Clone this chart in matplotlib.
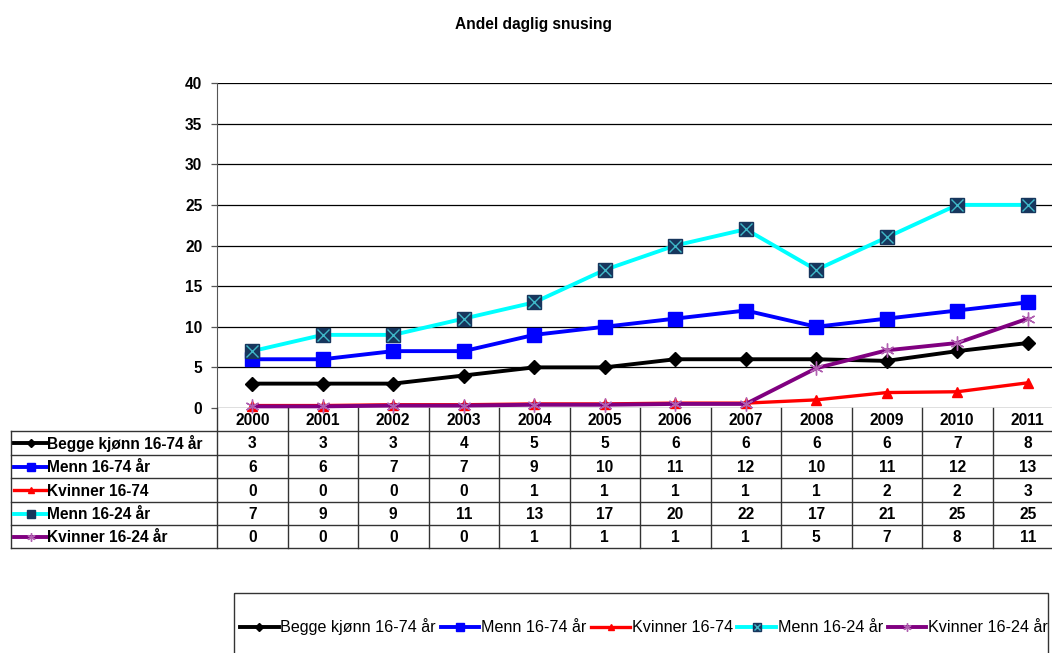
import numpy as np
import matplotlib
matplotlib.use("Agg")
import matplotlib.pyplot as plt
from matplotlib.patches import Rectangle

plt.rcParams['font.family'] = ['Liberation Sans', 'DejaVu Sans']

# Data
aar = [2000, 2001, 2002, 2003, 2004, 2005, 2006, 2007, 2008, 2009, 2010, 2011]
navn = ["Begge kjønn 16-74 år", "Menn 16-74 år", "Kvinner 16-74",
        "Menn 16-24 år", "Kvinner 16-24 år"]

# verdier slik de er tegnet i grafen
begge = [3, 3, 3, 4, 5, 5, 6, 6, 6, 5.8, 7, 8]
menn = [6, 6, 7, 7, 9, 10, 11, 12, 10, 11, 12, 13]
kvinner = [0.3, 0.3, 0.4, 0.4, 0.5, 0.5, 0.6, 0.6, 1.0, 1.9, 2.0, 3.1]
menn_ung = [7, 9, 9, 11, 13, 17, 20, 22, 17, 21, 25, 25]
kvinner_ung = [0.2, 0.2, 0.3, 0.3, 0.4, 0.4, 0.5, 0.5, 4.9, 7.1, 8.0, 11.0]

# verdier slik de står i tabellen
tab_begge = [3, 3, 3, 4, 5, 5, 6, 6, 6, 6, 7, 8]
tab_menn = [6, 6, 7, 7, 9, 10, 11, 12, 10, 11, 12, 13]
tab_kvinner = [0, 0, 0, 0, 1, 1, 1, 1, 1, 2, 2, 3]
tab_menn_ung = [7, 9, 9, 11, 13, 17, 20, 22, 17, 21, 25, 25]
tab_kvinner_ung = [0, 0, 0, 0, 1, 1, 1, 1, 5, 7, 8, 11]

serier = [begge, menn, kvinner, menn_ung, kvinner_ung]
tabell = [tab_begge, tab_menn, tab_kvinner, tab_menn_ung, tab_kvinner_ung]

stiler = [
    dict(color="black", lw=2.8, marker="D", ms=7.5, mfc="black", mec="black"),
    dict(color="#0000FF", lw=2.8, marker="s", ms=9.5, mfc="#0000FF", mec="#0000FF"),
    dict(color="#FF0000", lw=2.4, marker="^", ms=6.5, mfc="#FF0000", mec="#FF0000"),
    dict(color="#00FFFF", lw=2.8, marker="s", ms=9.5, mfc="#17365D", mec="#17365D"),
    dict(color="#800080", lw=2.8, marker=(6, 2, 0), ms=10, mec="#B060B0", mew=1.0),
]

W, H = 1052, 653
fig = plt.figure(figsize=(W / 100, H / 100), dpi=100)

x0, x1 = 217, 1063
kol = (x1 - x0) / len(aar)
topp, bunn = 83, 408
fs = 11.2

ax = fig.add_axes([x0 / W, (H - bunn) / H, (x1 - x0) / W, (bunn - topp) / H])
ax.set_xlim(-0.5, len(aar) - 0.5)
ax.set_ylim(0, 40)
ax.set_yticks(range(0, 41, 5))
ax.set_xticks([])
ax.yaxis.grid(True, color="black", lw=0.9)
ax.set_axisbelow(True)
for s in ["top", "right", "bottom"]:
    ax.spines[s].set_visible(False)
ax.spines["left"].set_color("#555555")
ax.tick_params(axis="y", length=4.5, width=0.9, pad=6, labelsize=fs, color="#555555")
for t in ax.get_yticklabels():
    t.set_fontweight("bold")

x = np.arange(len(aar))
handles = []
for i, (verdier, st) in enumerate(zip(serier, stiler)):
    l, = ax.plot(x, verdier, clip_on=False, zorder=3 + i * 0.1, **st)
    if i == 3:
        kryss, = ax.plot(x, verdier, ls="none", marker="x", ms=8, mew=1.0,
                         color="#3FB8C8", clip_on=False, zorder=3.35)
        handles.append((l, kryss))
    else:
        handles.append(l)

fig.text(533 / W, 1 - 24 / H, "Andel daglig snusing", ha="center", va="center",
         fontsize=fs, fontweight="bold")

# tabell under grafen
ov = fig.add_axes([0, 0, 1, 1])
ov.set_xlim(0, W)
ov.set_ylim(H, 0)
ov.axis("off")

rader = [408, 431, 455, 478, 502, 525, 548]
lk = "#333333"
for k in range(len(aar) + 1):
    ov.plot([x0 + k * kol] * 2, [rader[0], rader[-1]], color=lk, lw=1)
ov.plot([11, 11], [rader[1], rader[-1]], color=lk, lw=1)
for y in rader[1:]:
    ov.plot([11, x1], [y, y], color=lk, lw=1)

for j, a in enumerate(aar):
    ov.text(x0 + kol * (j + 0.5), (rader[0] + rader[1]) / 2 + 1, str(a),
            ha="center", va="center", fontsize=fs, fontweight="bold")

for r, (verdier, st, nv) in enumerate(zip(tabell, stiler, navn)):
    yc = (rader[r + 1] + rader[r + 2]) / 2
    sm = dict(st)
    sm["ms"] = sm["ms"] * 0.6
    ov.plot([14, 47], [yc, yc], **{k: v for k, v in sm.items() if k not in ("marker", "ms", "mfc", "mec", "mew")})
    ov.plot([30.5], [yc], ls="none", **{k: v for k, v in sm.items() if k not in ("color", "lw")})
    ov.text(47, yc + 1, nv, ha="left", va="center", fontsize=fs, fontweight="bold")
    for j, v in enumerate(verdier):
        ov.text(x0 + kol * (j + 0.5), yc + 1, str(v), ha="center", va="center",
                fontsize=fs, fontweight="bold")

# forklaring
ov.add_patch(Rectangle((234, 593), 1048 - 234, 80, fill=False, ec="#333333", lw=1,
                       clip_on=False))
fig.legend(handles, navn, loc="center left", bbox_to_anchor=(240 / W, 1 - 627 / H),
           ncol=5, frameon=False, handlelength=2.4, handletextpad=0.1,
           columnspacing=0.3, borderaxespad=0, borderpad=0, fontsize=11.6,
           markerscale=0.6)

fig.savefig("out.png", dpi=100)
